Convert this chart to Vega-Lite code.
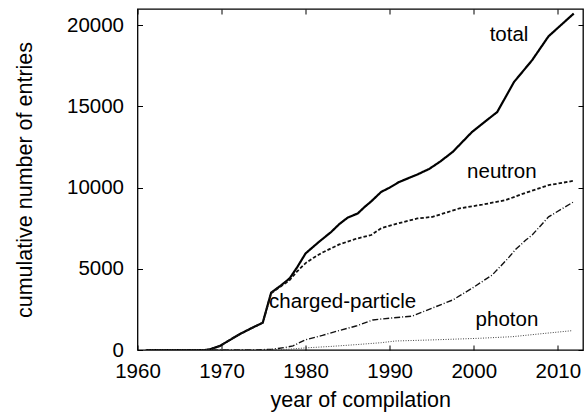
{
  "$schema": "https://vega.github.io/schema/vega-lite/v6.json",
  "width": 445.5,
  "height": 341,
  "autosize": {"type": "none"},
  "padding": {"left": 137.5, "top": 9, "right": 3, "bottom": 64},
  "background": "white",
  "config": {
    "view": {"stroke": "black", "strokeWidth": 1.3},
    "font": "Liberation Sans",
    "axis": {
      "labelFont": "Liberation Sans",
      "titleFont": "Liberation Sans",
      "labelFontSize": 20.5,
      "titleFontSize": 21.5,
      "titleFontWeight": "normal",
      "labelColor": "black",
      "titleColor": "black",
      "tickColor": "black",
      "tickWidth": 1,
      "tickSize": 5,
      "offset": -5,
      "labelFlush": false,
      "labelOverlap": false,
      "grid": false,
      "domain": false
    }
  },
  "datasets": {
    "curves": [
      {"series": "total", "year": 1961, "entries": 0},
      {"series": "total", "year": 1965, "entries": 0},
      {"series": "total", "year": 1968, "entries": 0},
      {"series": "total", "year": 1968.6, "entries": 40},
      {"series": "total", "year": 1969.8, "entries": 250},
      {"series": "total", "year": 1971, "entries": 620},
      {"series": "total", "year": 1972.2, "entries": 985},
      {"series": "total", "year": 1973.5, "entries": 1330},
      {"series": "total", "year": 1974.9, "entries": 1680},
      {"series": "total", "year": 1975.9, "entries": 3530},
      {"series": "total", "year": 1977, "entries": 3950},
      {"series": "total", "year": 1978.1, "entries": 4410},
      {"series": "total", "year": 1979, "entries": 5100},
      {"series": "total", "year": 1980, "entries": 5950},
      {"series": "total", "year": 1981.6, "entries": 6665},
      {"series": "total", "year": 1983, "entries": 7250},
      {"series": "total", "year": 1984, "entries": 7750},
      {"series": "total", "year": 1985, "entries": 8150},
      {"series": "total", "year": 1986.2, "entries": 8410},
      {"series": "total", "year": 1987, "entries": 8800},
      {"series": "total", "year": 1987.8, "entries": 9150},
      {"series": "total", "year": 1989, "entries": 9740},
      {"series": "total", "year": 1990, "entries": 10000},
      {"series": "total", "year": 1991.1, "entries": 10340},
      {"series": "total", "year": 1993.3, "entries": 10810},
      {"series": "total", "year": 1994.7, "entries": 11150},
      {"series": "total", "year": 1996, "entries": 11600},
      {"series": "total", "year": 1997.5, "entries": 12200},
      {"series": "total", "year": 1999.8, "entries": 13430},
      {"series": "total", "year": 2002.8, "entries": 14660},
      {"series": "total", "year": 2004.8, "entries": 16510},
      {"series": "total", "year": 2006.95, "entries": 17850},
      {"series": "total", "year": 2008.9, "entries": 19320},
      {"series": "total", "year": 2011.9, "entries": 20720},

      {"series": "neutron", "year": 1961, "entries": 0},
      {"series": "neutron", "year": 1968, "entries": 0},
      {"series": "neutron", "year": 1968.6, "entries": 40},
      {"series": "neutron", "year": 1969.8, "entries": 250},
      {"series": "neutron", "year": 1971, "entries": 620},
      {"series": "neutron", "year": 1972.2, "entries": 985},
      {"series": "neutron", "year": 1973.5, "entries": 1330},
      {"series": "neutron", "year": 1974.9, "entries": 1680},
      {"series": "neutron", "year": 1975.9, "entries": 3500},
      {"series": "neutron", "year": 1977, "entries": 3900},
      {"series": "neutron", "year": 1978.1, "entries": 4300},
      {"series": "neutron", "year": 1979, "entries": 4850},
      {"series": "neutron", "year": 1980, "entries": 5350},
      {"series": "neutron", "year": 1981, "entries": 5700},
      {"series": "neutron", "year": 1982, "entries": 6000},
      {"series": "neutron", "year": 1984, "entries": 6500},
      {"series": "neutron", "year": 1986, "entries": 6850},
      {"series": "neutron", "year": 1987.8, "entries": 7080},
      {"series": "neutron", "year": 1989, "entries": 7500},
      {"series": "neutron", "year": 1991, "entries": 7800},
      {"series": "neutron", "year": 1993.3, "entries": 8100},
      {"series": "neutron", "year": 1995.1, "entries": 8200},
      {"series": "neutron", "year": 1998.3, "entries": 8720},
      {"series": "neutron", "year": 2001, "entries": 8950},
      {"series": "neutron", "year": 2003.8, "entries": 9230},
      {"series": "neutron", "year": 2006, "entries": 9650},
      {"series": "neutron", "year": 2008.9, "entries": 10150},
      {"series": "neutron", "year": 2011.9, "entries": 10420},

      {"series": "charged-particle", "year": 1961, "entries": 0},
      {"series": "charged-particle", "year": 1974, "entries": 0},
      {"series": "charged-particle", "year": 1976, "entries": 50},
      {"series": "charged-particle", "year": 1977.5, "entries": 150},
      {"series": "charged-particle", "year": 1978.5, "entries": 250},
      {"series": "charged-particle", "year": 1979.9, "entries": 615},
      {"series": "charged-particle", "year": 1982, "entries": 900},
      {"series": "charged-particle", "year": 1984, "entries": 1200},
      {"series": "charged-particle", "year": 1986, "entries": 1475},
      {"series": "charged-particle", "year": 1988, "entries": 1850},
      {"series": "charged-particle", "year": 1990, "entries": 1960},
      {"series": "charged-particle", "year": 1992.7, "entries": 2090},
      {"series": "charged-particle", "year": 1995.5, "entries": 2670},
      {"series": "charged-particle", "year": 1997.5, "entries": 3080},
      {"series": "charged-particle", "year": 1999.8, "entries": 3800},
      {"series": "charged-particle", "year": 2002.2, "entries": 4620},
      {"series": "charged-particle", "year": 2004, "entries": 5600},
      {"series": "charged-particle", "year": 2005, "entries": 6200},
      {"series": "charged-particle", "year": 2006.2, "entries": 6770},
      {"series": "charged-particle", "year": 2006.95, "entries": 7080},
      {"series": "charged-particle", "year": 2008.9, "entries": 8200},
      {"series": "charged-particle", "year": 2011.9, "entries": 9130},

      {"series": "photon", "year": 1961, "entries": 0},
      {"series": "photon", "year": 1975, "entries": 0},
      {"series": "photon", "year": 1978, "entries": 50},
      {"series": "photon", "year": 1980, "entries": 130},
      {"series": "photon", "year": 1983, "entries": 220},
      {"series": "photon", "year": 1986, "entries": 330},
      {"series": "photon", "year": 1989, "entries": 450},
      {"series": "photon", "year": 1990.7, "entries": 555},
      {"series": "photon", "year": 1995, "entries": 620},
      {"series": "photon", "year": 2000.6, "entries": 720},
      {"series": "photon", "year": 2004.6, "entries": 820},
      {"series": "photon", "year": 2008, "entries": 1000},
      {"series": "photon", "year": 2011.7, "entries": 1190}
    ],
    "labels": [
      {"label": "total", "year": 2004.2, "entries": 19400},
      {"label": "neutron", "year": 2003.35, "entries": 10950},
      {"label": "charged-particle", "year": 1984.4, "entries": 2950},
      {"label": "photon", "year": 2003.95, "entries": 1850}
    ]
  },
  "resolve": {"axis": {"x": "independent", "y": "independent"}},
  "layer": [
    {
      "data": {"name": "curves"},
      "mark": {"type": "line", "clip": true},
      "encoding": {
        "x": {
          "field": "year", "type": "quantitative",
          "scale": {"domain": [1960, 2013], "nice": false, "zero": false},
          "axis": {
            "orient": "bottom",
            "values": [1960, 1970, 1980, 1990, 2000, 2010],
            "format": "d",
            "labelPadding": 11,
            "title": "year of compilation",
            "titlePadding": 8
          }
        },
        "y": {
          "field": "entries", "type": "quantitative",
          "scale": {"domain": [0, 21000], "nice": false},
          "axis": {
            "orient": "left",
            "values": [0, 5000, 10000, 15000, 20000],
            "format": "d",
            "labelPadding": 14,
            "title": "cumulative number of entries",
            "titlePadding": 30
          }
        },
        "detail": {"field": "series"},
        "color": {
          "field": "series", "type": "nominal", "legend": null,
          "scale": {"domain": ["total", "neutron", "charged-particle", "photon"], "range": ["#000000", "#111111", "#111111", "#444444"]}
        },
        "strokeDash": {
          "field": "series", "type": "nominal", "legend": null,
          "scale": {"domain": ["total", "neutron", "charged-particle", "photon"], "range": [[1, 0], [3.5, 2], [6, 2, 1, 2], [1, 1.5]]}
        },
        "strokeWidth": {
          "field": "series", "type": "nominal", "legend": null,
          "scale": {"domain": ["total", "neutron", "charged-particle", "photon"], "range": [2.2, 1, 1, 1]}
        }
      }
    },
    {
      "data": {"name": "labels"},
      "mark": {"type": "text", "fontSize": 20.5, "font": "Liberation Sans", "color": "black", "align": "center", "baseline": "middle"},
      "encoding": {
        "x": {
          "field": "year", "type": "quantitative",
          "scale": {"domain": [1960, 2013], "nice": false, "zero": false},
          "axis": {"orient": "top", "values": [1960, 1970, 1980, 1990, 2000, 2010], "labels": false, "title": null}
        },
        "y": {
          "field": "entries", "type": "quantitative",
          "scale": {"domain": [0, 21000], "nice": false},
          "axis": {"orient": "right", "values": [0, 5000, 10000, 15000, 20000], "labels": false, "title": null}
        },
        "text": {"field": "label"}
      }
    }
  ]
}
